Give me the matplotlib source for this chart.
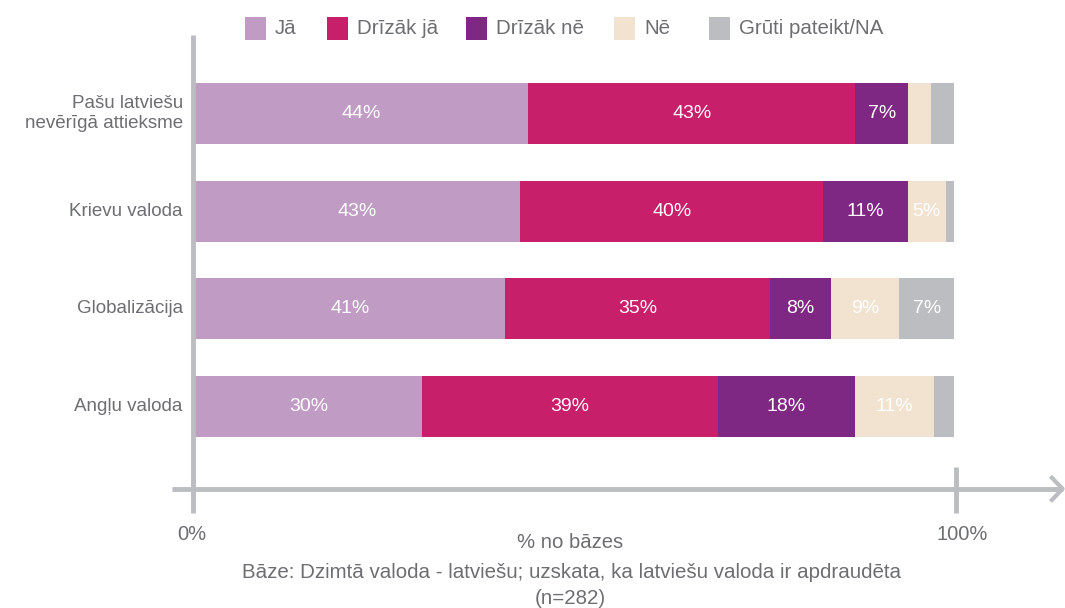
import matplotlib.pyplot as plt
from matplotlib.patches import Rectangle

plt.rcParams['font.family'] = ['Liberation Sans', 'DejaVu Sans']

categories = ["Pašu latviešu\nnevērīgā attieksme", "Krievu valoda", "Globalizācija", "Angļu valoda"]
series_names = ["Jā", "Drīzāk jā", "Drīzāk nē", "Nē", "Grūti pateikt/NA"]
ja = [43.9, 42.8, 40.8, 29.9]
drizak_ja = [43.1, 40.0, 35.0, 39.0]
drizak_ne = [7.0, 11.1, 8.0, 18.0]
ne = [3.0, 5.0, 9.0, 10.5]
gruti = [3.0, 1.1, 7.2, 2.6]
colors = ["#c09cc5", "#c81f6a", "#7f2883", "#f2e3d1", "#bcbdc0"]

text_color = "#6d6e71"
axis_color = "#bcbdc0"
W, H = 1065, 608

fig = plt.figure(figsize=(W / 100, H / 100), dpi=100)
ax = fig.add_axes([195 / W, 1 - 510 / H, 759 / W, 475 / H])
ax.set_xlim(0, 100)
ax.set_ylim(4.06, -0.803)
ax.axis("off")

series = [ja, drizak_ja, drizak_ne, ne, gruti]
left = [0.0] * len(categories)
for vals, color in zip(series, colors):
    ax.barh(range(len(categories)), vals, left=left, height=0.625, color=color, linewidth=0)
    for i, v in enumerate(vals):
        pct = int(v + 0.5)
        if pct >= 5:
            ax.text(left[i] + v / 2, i, f"{pct}%", ha="center", va="center",
                    color="white", fontsize=14)
    left = [l + v for l, v in zip(left, vals)]

for i, cat in enumerate(categories):
    ax.text(-1.6, i, cat, ha="right", va="center", color=text_color, fontsize=13.5,
            linespacing=1.2)

# axes drawn as in the original: thick grey lines with arrow
ax.plot([-0.26, -0.26], [-0.803, 4.09], color=axis_color, lw=3.5, clip_on=False,
        solid_capstyle="butt")
ax.plot([-3.0, 114.3], [3.843, 3.843], color=axis_color, lw=3.5, clip_on=False,
        solid_capstyle="butt")
ax.plot([100.2, 100.2], [3.618, 4.09], color=axis_color, lw=3.5, clip_on=False,
        solid_capstyle="butt")
ax.plot([112.9, 114.3, 112.9], [3.73, 3.843, 3.957], color=axis_color, lw=3.0,
        clip_on=False)

# overlay in pixel coordinates for legend and captions
ov = fig.add_axes([0, 0, 1, 1])
ov.set_xlim(0, W)
ov.set_ylim(H, 0)
ov.axis("off")

sq_x = [245, 327, 466, 614, 709]
for x, name, color in zip(sq_x, series_names, colors):
    ov.add_patch(Rectangle((x, 17), 21, 23, color=color, linewidth=0))
    ov.text(x + 30, 28.5, name, ha="left", va="center", color=text_color, fontsize=14.8)

ov.text(192, 535, "0%", ha="center", va="center", color=text_color, fontsize=14.5)
ov.text(962, 535, "100%", ha="center", va="center", color=text_color, fontsize=14.5)
ov.text(570, 543, "% no bāzes", ha="center", va="center", color=text_color, fontsize=14.6)
ov.text(571, 572, "Bāze: Dzimtā valoda - latviešu; uzskata, ka latviešu valoda ir apdraudēta",
        ha="center", va="center", color=text_color, fontsize=14.8)
ov.text(570, 598, "(n=282)", ha="center", va="center", color=text_color, fontsize=14.8)

fig.savefig("out.png", dpi=100)
